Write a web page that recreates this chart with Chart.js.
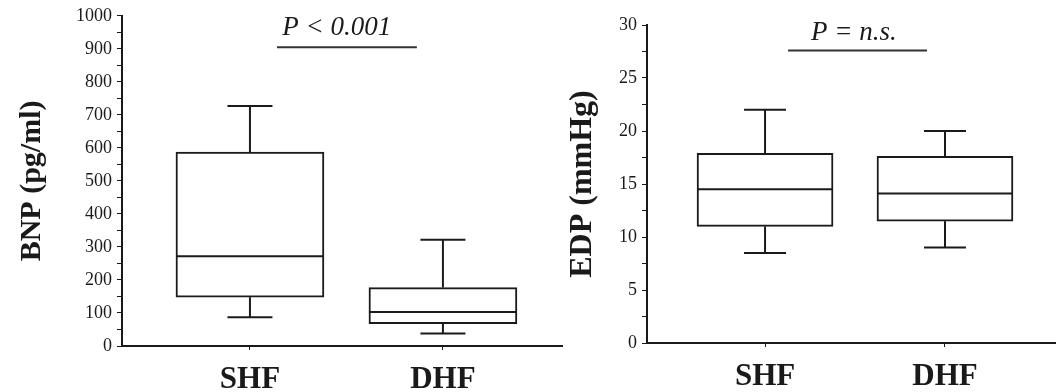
<!DOCTYPE html>
<html lang="en">
<head>
  <meta charset="UTF-8" />
  <title>BNP and EDP: SHF vs DHF</title>
  <script src="https://cdn.jsdelivr.net/npm/chart.js"></script>
  <style>
    html, body {
      margin: 0;
      padding: 0;
      background: #fff;
    }

    .wrap {
      position: relative;
      width: 1056px;
      height: 392px;
      overflow: hidden;
    }

    .panel {
      position: absolute;
      top: 0;
    }

    #bnpPanel { left: 0; }
    #edpPanel { left: 540px; }
  </style>
</head>
<body>
  <div class="wrap">
    <div class="panel" id="bnpPanel"><canvas id="bnpChart" width="570" height="392"></canvas></div>
    <div class="panel" id="edpPanel"><canvas id="edpChart" width="516" height="392"></canvas></div>
  </div>

  <script>
    const categories = ['SHF', 'DHF'];

    // BNP (pg/ml) box stats
    const bnpMin = [87, 38];
    const bnpQ1 = [148, 68];
    const bnpMedian = [272, 103];
    const bnpQ3 = [587, 177];
    const bnpMax = [727, 322];
    const bnpTicks = [0, 50, 100, 150, 200, 250, 300, 350, 400, 450, 500, 550, 600, 650, 700, 750, 800, 850, 900, 950, 1000];

    // EDP (mmHg) box stats
    const edpMin = [8.5, 9.0];
    const edpQ1 = [11.0, 11.5];
    const edpMedian = [14.5, 14.1];
    const edpQ3 = [17.9, 17.6];
    const edpMax = [22.0, 20.0];
    const edpTicks = [0, 2.5, 5, 7.5, 10, 12.5, 15, 17.5, 20, 22.5, 25, 27.5, 30];

    const INK = '#1a1a1a';
    const SERIF = '"Liberation Serif", "Times New Roman", serif';

    // draws medians, whiskers and the P annotation on top of the box bars
    const boxPlot = {
      id: 'boxPlot',
      afterDatasetsDraw(chart) {
        const st = chart.data.datasets[0].stats;
        const meta = chart.getDatasetMeta(0);
        const xs = chart.scales.x;
        const ys = chart.scales.y;
        const ctx = chart.ctx;

        const line = (x1, y1, x2, y2) => {
          ctx.beginPath();
          ctx.moveTo(x1, y1);
          ctx.lineTo(x2, y2);
          ctx.stroke();
        };

        ctx.save();
        ctx.strokeStyle = INK;
        ctx.lineWidth = 2;
        meta.data.forEach((bar, i) => {
          const half = bar.width / 2;
          const cap = st.capWidth / 2;
          const yMed = ys.getPixelForValue(st.median[i]);
          const yQ1 = ys.getPixelForValue(st.q1[i]);
          const yQ3 = ys.getPixelForValue(st.q3[i]);
          const yLo = ys.getPixelForValue(st.min[i]);
          const yHi = ys.getPixelForValue(st.max[i]);
          line(bar.x - half, yMed, bar.x + half, yMed);
          line(bar.x, yQ3, bar.x, yHi);
          line(bar.x - cap, yHi, bar.x + cap, yHi);
          line(bar.x, yQ1, bar.x, yLo);
          line(bar.x - cap, yLo, bar.x + cap, yLo);
        });

        const n = st.note;
        ctx.strokeStyle = '#333';
        line(xs.getPixelForValue(n.x1), ys.getPixelForValue(n.yLine), xs.getPixelForValue(n.x2), ys.getPixelForValue(n.yLine));
        ctx.fillStyle = INK;
        ctx.font = 'italic 27px ' + SERIF;
        ctx.textAlign = 'center';
        ctx.textBaseline = 'middle';
        ctx.fillText(n.text, xs.getPixelForValue(n.x), ys.getPixelForValue(n.yText));
        ctx.restore();
      }
    };

    function boxChart(id, o) {
      return new Chart(document.getElementById(id), {
        type: 'bar',
        data: {
          datasets: [{
            data: categories.map((c, i) => ({ x: i + 1, y: [o.q1[i], o.q3[i]] })),
            backgroundColor: '#fff',
            borderColor: INK,
            borderWidth: 2,
            borderSkipped: false,
            barThickness: o.boxWidth,
            stats: o
          }]
        },
        options: {
          responsive: false,
          animation: false,
          layout: { padding: o.padding },
          plugins: {
            legend: { display: false },
            tooltip: { enabled: false }
          },
          scales: {
            x: {
              type: 'linear',
              offset: false,
              min: o.xMin,
              max: o.xMax,
              afterBuildTicks: s => { s.ticks = categories.map((c, i) => ({ value: i + 1 })); },
              afterFit: s => { s.height = o.xHeight; },
              grid: { offset: false, drawOnChartArea: false, tickLength: 4, color: INK },
              border: { color: INK, width: 2 },
              ticks: {
                callback: v => categories[v - 1],
                autoSkip: false,
                maxRotation: 0,
                padding: 11,
                color: INK,
                font: { family: SERIF, size: 31, weight: 'bold' }
              }
            },
            y: {
              min: 0,
              max: o.yMax,
              afterBuildTicks: s => { s.ticks = o.ticks.map(v => ({ value: v })); },
              afterFit: s => { s.width = o.yWidth; },
              grid: { drawOnChartArea: false, tickLength: 5, color: INK },
              border: { color: INK, width: 2 },
              ticks: {
                callback: v => (v % o.major === 0 ? v : ''),
                autoSkip: false,
                padding: 5,
                color: INK,
                font: { family: SERIF, size: 18 }
              },
              title: {
                display: true,
                text: o.title,
                color: INK,
                font: { family: SERIF, size: o.titleSize, weight: 'bold' },
                padding: { top: o.titlePad, bottom: 0 }
              }
            }
          }
        },
        plugins: [boxPlot]
      });
    }

    boxChart('bnpChart', {
      min: bnpMin, q1: bnpQ1, median: bnpMedian, q3: bnpQ3, max: bnpMax,
      ticks: bnpTicks, major: 100, yMax: 1000,
      title: 'BNP (pg/ml)', titleSize: 30, titlePad: 14,
      xMin: 0.337, xMax: 2.617,
      yWidth: 122, xHeight: 46,
      padding: { top: 11, right: 8, left: 0, bottom: 0 },
      boxWidth: 148, capWidth: 45,
      note: { text: 'P < 0.001', x: 1.45, yText: 964, x1: 1.14, x2: 1.865, yLine: 905 }
    });

    boxChart('edpChart', {
      min: edpMin, q1: edpQ1, median: edpMedian, q3: edpQ3, max: edpMax,
      ticks: edpTicks, major: 5, yMax: 30,
      title: 'EDP (mmHg)', titleSize: 32, titlePad: 24,
      xMin: 0.344, xMax: 2.617,
      yWidth: 107, xHeight: 49,
      padding: { top: 25, right: 0, left: 0, bottom: 0 },
      boxWidth: 136, capWidth: 42,
      note: { text: 'P = n.s.', x: 1.494, yText: 29.3, x1: 1.128, x2: 1.9, yLine: 27.6 }
    });
  </script>
</body>
</html>
